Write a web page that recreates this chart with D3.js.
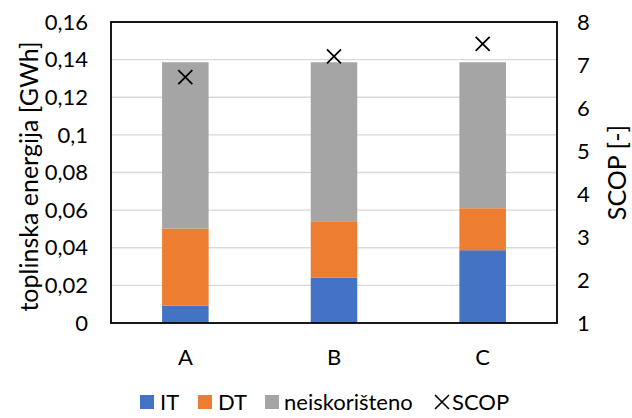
<!DOCTYPE html>
<html><head><meta charset="utf-8">
<script src="https://cdn.jsdelivr.net/npm/d3@7"></script>
<style>
html,body{margin:0;padding:0;background:#fff;}
text{font-family:Lato,"Open Sans",sans-serif;fill:#000;}
</style></head>
<body><svg id="c" width="632" height="418"></svg>
<script>
const categories = ["A","B","C"];
const seriesNames = ["IT","DT","neiskorišteno"];
const IT = [0.0093, 0.0242, 0.0387];
const DT = [0.0409, 0.0299, 0.0223];
const neiskoristeno = [0.0884, 0.0845, 0.0776];
const SCOP = [6.72, 7.20, 7.49];
const leftTicks = [0,0.02,0.04,0.06,0.08,0.1,0.12,0.14,0.16];
const rightTicks = [1,2,3,4,5,6,7,8];
const colors = ["#4472C4","#ED7D31","#A5A5A5"];

const svg = d3.select("#c");
const L=111, R=557, T=22, B=323;
const fs = 22, fsTitle = 25;
const x = d3.scaleBand().domain(categories).range([L,R]).paddingInner(0).paddingOuter(0);
const yL = d3.scaleLinear().domain([0,0.16]).range([B,T]);
const yR = d3.scaleLinear().domain([1,8]).range([B,T]);

// gridlines
svg.append("g").selectAll("line").data(leftTicks.slice(1)).join("line")
  .attr("x1",L).attr("x2",R).attr("y1",d=>yL(d)).attr("y2",d=>yL(d))
  .attr("stroke","#d9d9d9").attr("stroke-width",1.3);

// stacked bars
const rows = categories.map((c,i)=>({cat:c, IT:IT[i], DT:DT[i], "neiskorišteno":neiskoristeno[i]}));
const stack = d3.stack().keys(seriesNames)(rows);
const bw = x.bandwidth()*0.313;
svg.append("g").selectAll("g").data(stack).join("g").attr("fill",(d,i)=>colors[i])
  .selectAll("rect").data(d=>d).join("rect")
  .attr("x",d=>x(d.data.cat)+x.bandwidth()/2-bw/2).attr("width",bw)
  .attr("y",d=>yL(d[1])).attr("height",d=>yL(d[0])-yL(d[1]));

// frame
svg.append("rect").attr("x",L).attr("y",T).attr("width",R-L).attr("height",B-T)
  .attr("fill","none").attr("stroke","#000").attr("stroke-width",1.8);

// SCOP markers
const ms = 7;
const mk = svg.append("g").selectAll("g").data(SCOP).join("g")
  .attr("transform",(d,i)=>`translate(${x(categories[i])+x.bandwidth()/2},${yR(d)})`);
mk.append("path").attr("d",`M${-ms},${-ms}L${ms},${ms}M${-ms},${ms}L${ms},${-ms}`)
  .attr("stroke","#000").attr("stroke-width",1.8).attr("fill","none");

// left axis labels
const fmt = d=>String(d).replace(".",",");
svg.append("g").selectAll("text").data(leftTicks).join("text")
  .attr("x",88).attr("y",d=>yL(d)).attr("dy","0.35em").attr("text-anchor","end")
  .attr("font-size",fs).text(fmt);
// right axis labels
svg.append("g").selectAll("text").data(rightTicks).join("text")
  .attr("x",577).attr("y",d=>yR(d)).attr("dy","0.35em").attr("text-anchor","start")
  .attr("font-size",fs).text(d=>d);
// x labels
svg.append("g").selectAll("text").data(categories).join("text")
  .attr("x",d=>x(d)+x.bandwidth()/2).attr("y",357).attr("dy","0.35em").attr("text-anchor","middle")
  .attr("font-size",fs).text(d=>d);
// axis titles
svg.append("text").attr("transform",`translate(29,${(T+B)/2+4}) rotate(-90)`)
  .attr("text-anchor","middle").attr("dy","0.35em").attr("font-size",fsTitle).text("toplinska energija [GWh]");
svg.append("text").attr("transform",`translate(617,${(T+B)/2}) rotate(-90)`)
  .attr("text-anchor","middle").attr("dy","0.35em").attr("font-size",fsTitle).text("SCOP [-]");

// legend
const lg = svg.append("g");
const legendItems = [
  {name:"IT", sx:140, tx:160, type:"sq", c:colors[0]},
  {name:"DT", sx:198, tx:218, type:"sq", c:colors[1]},
  {name:"neiskorišteno", sx:265, tx:284, type:"sq", c:colors[2]},
  {name:"SCOP", sx:435, tx:452, type:"x"}
];
const ly = 402;
legendItems.forEach(it=>{
  if(it.type==="sq"){
    lg.append("rect").attr("x",it.sx).attr("y",ly-7).attr("width",14).attr("height",14).attr("fill",it.c);
  } else {
    lg.append("path").attr("d",`M${it.sx},${ly-7}L${it.sx+14},${ly+7}M${it.sx},${ly+7}L${it.sx+14},${ly-7}`)
      .attr("stroke","#000").attr("stroke-width",1.6);
  }
  lg.append("text").attr("x",it.tx).attr("y",ly).attr("dy","0.35em").attr("font-size",fs).text(it.name);
});
</script></body></html>
